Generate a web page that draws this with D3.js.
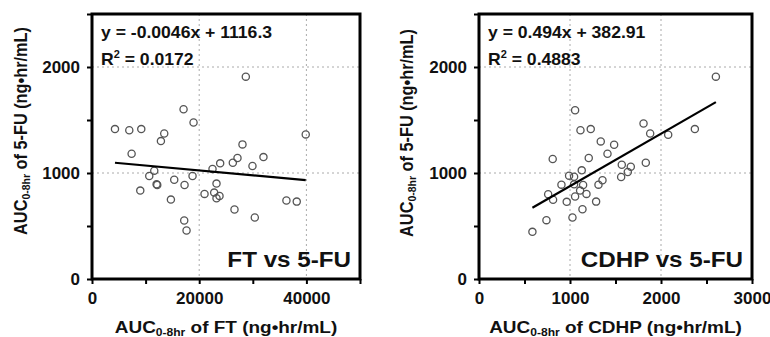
<!DOCTYPE html>
<html><head><meta charset="utf-8">
<script src="https://cdn.jsdelivr.net/npm/d3@7/dist/d3.min.js"></script>
<style>
html,body{margin:0;padding:0;background:#fff;}
svg text{font-family:"Liberation Sans",Arial,sans-serif;font-weight:bold;fill:#111;}
</style></head>
<body><svg id="c" width="770" height="337"></svg>
<script>
// ---- data ----
const ftX = [4286,6957,9193,7391,13478,12857,17081,18944,28696,39876,28075,27143,26273,31988,29938,23913,22484,11615,10683,12050,12174,15342,17267,18758,9006,14720,20994,23230,22795,23230,23789,26584,30373,36273,38199,17205,17640];
const ftY = [1414,1404,1414,1182,1373,1301,1602,1476,1909,1364,1270,1141,1097,1150,1066,1091,1038,1022,972,893,887,937,887,972,834,749,803,900,815,762,784,655,580,740,730,552,458];
const cdhpX = [2603,2372,2079,1881,1808,1833,1056,1115,1228,1338,1485,1412,1206,810,1569,1668,1635,1562,1129,990,1045,1357,1313,1144,906,1045,760,814,964,1056,1111,1181,1287,1137,1027,741,587];
const cdhpY = [1909,1414,1361,1373,1467,1097,1592,1404,1414,1298,1266,1182,1141,1132,1078,1060,1009,962,1025,975,965,931,890,887,890,893,800,748,728,778,834,803,730,658,580,555,445];
const ftFit = {slope:-0.0046, intercept:1116.3};
const cdhpFit = {slope:0.494, intercept:382.91};
const ftXTicks = [0,10000,20000,30000,40000,50000];
const ftXLabels = [0,20000,40000];
const cdhpXTicks = [0,500,1000,1500,2000,2500,3000];
const cdhpXLabels = [0,1000,2000,3000];
const yTicks = [0,500,1000,1500,2000,2500];
const yLabels = [0,1000,2000];
const eqTexts = ["y = -0.0046x + 1116.3","y = 0.494x + 382.91"];
const r2Texts = ["0.0172","0.4883"];
const panelTitles = ["FT vs 5-FU","CDHP vs 5-FU"];
const xTitleDrugs = ["FT","CDHP"];

const svg = d3.select("#c");
const panels = [
  {x:ftX,y:ftY,fit:ftFit,xDomain:[0,50000],xTicks:ftXTicks,xLabels:ftXLabels,left:92,right:360,ytx:27,yty:131},
  {x:cdhpX,y:cdhpY,fit:cdhpFit,xDomain:[0,3000],xTicks:cdhpXTicks,xLabels:cdhpXLabels,left:479,right:752,ytx:413,yty:133}
];
const plotTop=14, plotBottom=279;

panels.forEach((p,i)=>{
  const xs = d3.scaleLinear().domain(p.xDomain).range([p.left,p.right]);
  const ys = d3.scaleLinear().domain([0,2500]).range([plotBottom,plotTop]);
  const g = svg.append("g");
  // grid
  g.selectAll(".vg").data(p.xLabels.filter(v=>v>p.xDomain[0]&&v<p.xDomain[1])).join("line")
    .attr("x1",d=>xs(d)).attr("x2",d=>xs(d)).attr("y1",plotTop).attr("y2",plotBottom)
    .attr("stroke","#aaa").attr("stroke-width",1).attr("stroke-dasharray","2,3");
  g.selectAll(".hg").data(yLabels.filter(v=>v>0)).join("line")
    .attr("x1",p.left).attr("x2",p.right).attr("y1",d=>ys(d)).attr("y2",d=>ys(d))
    .attr("stroke","#aaa").attr("stroke-width",1).attr("stroke-dasharray","2,3");
  // axes
  const xa = d3.axisBottom(xs).tickValues(p.xTicks).tickSize(5).tickPadding(6)
    .tickFormat(d=>p.xLabels.includes(d)?String(d):"");
  const xg = g.append("g").attr("transform",`translate(0,${plotBottom})`).call(xa);
  const ya = d3.axisLeft(ys).tickValues(yTicks).tickSize(5).tickPadding(7)
    .tickFormat(d=>yLabels.includes(d)?String(d):"");
  const yg = g.append("g").attr("transform",`translate(${p.left},0)`).call(ya);
  [xg,yg].forEach(a=>{
    a.select(".domain").remove();
    a.selectAll(".tick line").attr("stroke","#000").attr("stroke-width",2);
    a.selectAll(".tick text").style("font-size","17px").style("font-family","'Liberation Sans',Arial,sans-serif").style("font-weight","bold").attr("fill","#111");
  });
  xg.selectAll(".tick text").attr("dy","0.85em");
  // frame
  g.append("rect").attr("x",p.left).attr("y",plotTop).attr("width",p.right-p.left).attr("height",plotBottom-plotTop)
    .attr("fill","none").attr("stroke","#000").attr("stroke-width",3);
  // points
  g.selectAll("circle").data(p.x.map((v,k)=>[v,p.y[k]])).join("circle")
    .attr("cx",d=>xs(d[0])).attr("cy",d=>ys(d[1])).attr("r",3.6)
    .attr("fill","none").attr("stroke","#555").attr("stroke-width",1.3);
  // fit line
  const x0=d3.min(p.x), x1=d3.max(p.x);
  g.append("line").attr("x1",xs(x0)).attr("y1",ys(p.fit.slope*x0+p.fit.intercept))
    .attr("x2",xs(x1)).attr("y2",ys(p.fit.slope*x1+p.fit.intercept))
    .attr("stroke","#000").attr("stroke-width",2.2);
  // equation
  g.append("text").attr("transform",`translate(${p.left+9},38) scale(1.1,1)`).style("font-size","16px").text(eqTexts[i]);
  const r = g.append("text").attr("transform",`translate(${p.left+9},65) scale(1.1,1)`).style("font-size","16px");
  r.append("tspan").text("R");
  r.append("tspan").attr("dy",-7).style("font-size","10px").text("2");
  r.append("tspan").attr("dy",7).text(" = "+r2Texts[i]);
  // panel title
  g.append("text").attr("transform",`translate(${p.right-9},267) scale(1.1,1)`).attr("text-anchor","end").style("font-size","22px").text(panelTitles[i]);
  // x title
  const xt = g.append("text").attr("transform",`translate(${(p.left+p.right)/2},333) scale(1.15,1)`).attr("text-anchor","middle").style("font-size","16.5px");
  xt.append("tspan").text("AUC");
  xt.append("tspan").attr("dy",3).style("font-size","10.5px").text("0-8hr");
  xt.append("tspan").attr("dy",-3).text(" of "+xTitleDrugs[i]+" (ng•hr/mL)");
  // y title
  const yt = g.append("text").attr("transform",`translate(${p.ytx},${p.yty}) rotate(-90) scale(1,1.1)`).attr("text-anchor","middle").style("font-size","16.3px");
  yt.append("tspan").text("AUC");
  yt.append("tspan").attr("dy",3).style("font-size","10.5px").text("0-8hr");
  yt.append("tspan").attr("dy",-3).text(" of 5-FU (ng•hr/mL)");
});
</script></body></html>
